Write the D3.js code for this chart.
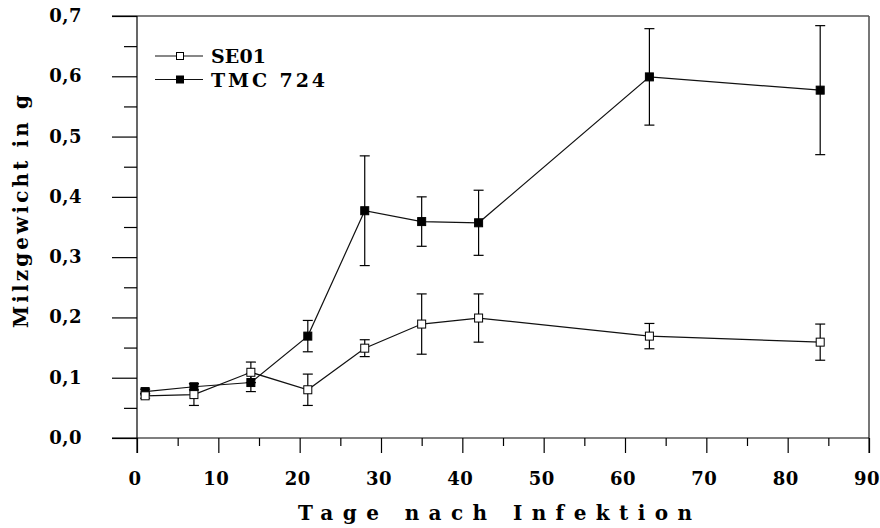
<!DOCTYPE html>
<html>
<head>
<meta charset="utf-8">
<script src="https://cdn.jsdelivr.net/npm/d3@7"></script>
<style>
  html, body { margin: 0; padding: 0; background: #fff; }
  svg { display: block; }
  text { font-family: "DejaVu Serif", "Liberation Serif", serif; font-weight: bold; fill: #000; }
</style>
</head>
<body>
<svg id="chart" width="880" height="528"></svg>
<script>
// Days after infection
const days = [1, 7, 14, 21, 28, 35, 42, 63, 84];
// Spleen weight (g), mean and error
const se01 = [0.070, 0.072, 0.109, 0.080, 0.149, 0.189, 0.199, 0.169, 0.159];
const se01Err = [0.004, 0.018, 0.017, 0.026, 0.014, 0.050, 0.040, 0.021, 0.030];
const tmc724 = [0.077, 0.085, 0.092, 0.169, 0.377, 0.359, 0.357, 0.599, 0.577];
const tmc724Err = [0.004, 0.005, 0.015, 0.026, 0.091, 0.041, 0.054, 0.080, 0.107];

const xTicks = [0, 10, 20, 30, 40, 50, 60, 70, 80, 90];
const yTicks = [0.0, 0.1, 0.2, 0.3, 0.4, 0.5, 0.6, 0.7];

const seriesNames = ["SE01", "TMC  724"];

const svg = d3.select("#chart");
const x = d3.scaleLinear().domain([0, 90]).range([137, 869]);
const y = d3.scaleLinear().domain([0, 0.7]).range([438, 16]);

const fmt = v => d3.format(".1f")(v).replace(".", ",");

// Frame: top and right border lines
svg.append("line").attr("x1", 112).attr("x2", x(90)).attr("y1", y(0.7)).attr("y2", y(0.7))
  .attr("stroke", "#000").attr("stroke-width", 1.2);
svg.append("line").attr("x1", x(90)).attr("x2", x(90)).attr("y1", y(0.7)).attr("y2", 453)
  .attr("stroke", "#555").attr("stroke-width", 1.6);

// Y axis with major ticks (outside) and minor ticks in between
const yAxis = d3.axisLeft(y).tickValues(yTicks).tickSize(25).tickFormat("");
const gy = svg.append("g").attr("transform", `translate(${x(0)},0)`).call(yAxis);
gy.select(".domain").remove();
gy.selectAll(".tick line").attr("stroke", "#000").attr("stroke-width", 1.2);
const gyMinor = svg.append("g").attr("transform", `translate(${x(0)},0)`)
  .call(d3.axisLeft(y).tickValues(d3.range(0.05, 0.7, 0.1)).tickSize(13).tickFormat(""));
gyMinor.select(".domain").remove();
gyMinor.selectAll(".tick line").attr("stroke", "#000").attr("stroke-width", 1.2);
svg.append("line").attr("x1", x(0)).attr("x2", x(0)).attr("y1", y(0.7)).attr("y2", 453)
  .attr("stroke", "#000").attr("stroke-width", 1.2);

// X axis with major ticks (outside) and minor ticks
const gx = svg.append("g").attr("transform", `translate(0,${y(0)})`)
  .call(d3.axisBottom(x).tickValues(xTicks).tickSize(15).tickFormat(""));
gx.select(".domain").remove();
gx.selectAll(".tick line").attr("stroke", "#000").attr("stroke-width", 1.2);
const gxMinor = svg.append("g").attr("transform", `translate(0,${y(0)})`)
  .call(d3.axisBottom(x).tickValues(d3.range(5, 90, 10)).tickSize(8).tickFormat(""));
gxMinor.select(".domain").remove();
gxMinor.selectAll(".tick line").attr("stroke", "#000").attr("stroke-width", 1.2);
svg.append("line").attr("x1", 112).attr("x2", x(90)).attr("y1", y(0)).attr("y2", y(0))
  .attr("stroke", "#000").attr("stroke-width", 1.2);

// Tick labels
svg.append("g").selectAll("text").data(yTicks).join("text")
  .attr("x", 82).attr("y", d => y(d) + 6)
  .attr("text-anchor", "end").attr("font-size", 18).attr("letter-spacing", 0.5)
  .text(fmt);
svg.append("g").selectAll("text").data(xTicks).join("text")
  .attr("x", d => x(d) - 2).attr("y", 485)
  .attr("text-anchor", "middle").attr("font-size", 18).attr("letter-spacing", 0.5)
  .text(d => d);

// Axis titles
svg.append("text").attr("x", 298).attr("y", 520).attr("font-size", 20)
  .attr("textLength", 394).attr("lengthAdjust", "spacing")
  .text("Tage nach Infektion");
svg.append("text").attr("transform", "translate(28,328) rotate(-90)")
  .attr("x", 0).attr("y", 0).attr("font-size", 20)
  .attr("textLength", 233).attr("lengthAdjust", "spacing")
  .text("Milzgewicht in g");

// Series rendering
const line = d3.line().x(d => x(d[0])).y(d => y(d[1]));
function drawSeries(vals, errs, filled) {
  const pts = days.map((d, i) => [d, vals[i], errs[i]]);
  const g = svg.append("g");
  g.append("path").datum(pts).attr("d", line)
    .attr("fill", "none").attr("stroke", "#111").attr("stroke-width", 1.2);
  const eb = g.selectAll("g.err").data(pts).join("g").attr("class", "err");
  eb.append("line").attr("x1", d => x(d[0])).attr("x2", d => x(d[0]))
    .attr("y1", d => y(d[1] - d[2])).attr("y2", d => y(d[1] + d[2]))
    .attr("stroke", "#000").attr("stroke-width", 1.2);
  eb.append("line").attr("x1", d => x(d[0]) - 5).attr("x2", d => x(d[0]) + 5)
    .attr("y1", d => y(d[1] + d[2])).attr("y2", d => y(d[1] + d[2]))
    .attr("stroke", "#000").attr("stroke-width", 1.2);
  eb.append("line").attr("x1", d => x(d[0]) - 5).attr("x2", d => x(d[0]) + 5)
    .attr("y1", d => y(d[1] - d[2])).attr("y2", d => y(d[1] - d[2]))
    .attr("stroke", "#000").attr("stroke-width", 1.2);
  g.selectAll("rect").data(pts).join("rect")
    .attr("x", d => x(d[0]) - 4).attr("y", d => y(d[1]) - 4)
    .attr("width", 8).attr("height", 8)
    .attr("fill", filled ? "#000" : "#fff").attr("stroke", "#000").attr("stroke-width", 1);
}
drawSeries(tmc724, tmc724Err, true);
drawSeries(se01, se01Err, false);

// Legend
const legend = svg.append("g");
seriesNames.forEach((name, i) => {
  const ly = 56 + i * 23.5;
  legend.append("line").attr("x1", 155).attr("x2", 203).attr("y1", ly).attr("y2", ly)
    .attr("stroke", "#111").attr("stroke-width", 1.2);
  legend.append("rect").attr("x", 180 - 3.5).attr("y", ly - 3.5).attr("width", 7).attr("height", 7)
    .attr("fill", i === 0 ? "#fff" : "#000").attr("stroke", "#000").attr("stroke-width", 1);
  legend.append("text").attr("x", 211).attr("y", ly + 7).attr("font-size", 19)
    .attr("textLength", i === 0 ? 55 : 114).attr("lengthAdjust", "spacing")
    .text(name);
});
</script>
</body>
</html>
